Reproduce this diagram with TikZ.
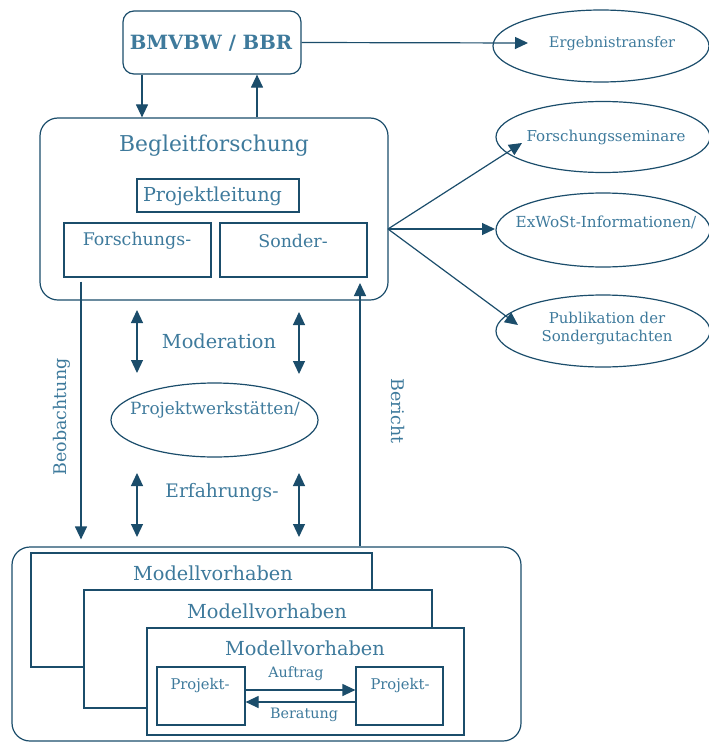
\documentclass[tikz,border=0pt]{standalone}
\usepackage{fontspec}
\setmainfont{DejaVu Serif}
\usetikzlibrary{arrows.meta,shapes.geometric}
\definecolor{linec}{RGB}{27,77,107}
\definecolor{textc}{RGB}{62,122,156}
\newcommand{\fsz}[1]{\fontsize{#1}{#1}\selectfont}
\begin{document}
\begin{tikzpicture}[x=1bp,y=-1bp,
  line width=1.2bp,
  every node/.style={text=textc, inner sep=0pt},
  arr/.style={draw=linec, -{Triangle[length=13bp,width=12bp]}},
  darr/.style={draw=linec, {Triangle[length=13bp,width=12bp]}-{Triangle[length=13bp,width=12bp]}},
  rbox/.style={draw=linec, fill=white, rectangle},
  ell/.style={draw=linec, ellipse},
  big/.style={font=\fsz{19.4}},
  med/.style={font=\fsz{17.5}},
  small/.style={font=\fsz{14.4}}
]
\useasboundingbox (0,0) rectangle (709,742);

% top
\node[rbox, rounded corners=11bp, minimum width=178bp, minimum height=63bp] (bmv) at (212,42.5) {};
\node[font=\bfseries\fsz{19.7}] (bmvt) at (211,43) {BMVBW / BBR};

\node[rbox, rounded corners=18bp, minimum width=348bp, minimum height=182bp] (bf) at (214,209) {};
\node[font=\fsz{21.9}] (bft) at (214,146) {Begleitforschung};
\node[rbox, minimum width=162bp, minimum height=33bp] (pl) at (218,195.5) {};
\node[font=\fsz{19.3}] (plt) at (212.5,196) {Projektleitung};
\node[rbox, minimum width=147bp, minimum height=54bp] (fo) at (137.5,250) {};
\node[med] (fot) at (137,241) {Forschungs-};
\node[rbox, minimum width=147bp, minimum height=54bp] (so) at (293.5,250) {};
\node[med] (sot) at (293,241) {Sonder-};

% right ellipses
\node[ell, minimum width=216bp, minimum height=72bp] (erg) at (601,46) {};
\node[font=\fsz{14.7}] (ergt) at (612,44) {Ergebnistransfer};
\node[ell, minimum width=214bp, minimum height=71bp] (fs) at (603,137) {};
\node[font=\fsz{15.1}] (fst) at (606,137) {Forschungsseminare};
\node[ell, minimum width=214bp, minimum height=74bp] (ex) at (603,230) {};
\node[font=\fsz{15.3}] (ext) at (606,222) {ExWoSt-Informationen/};
\node[ell, minimum width=214bp, minimum height=72bp] (pu) at (603,331) {};
\node[font=\fontsize{15}{19}\selectfont, align=center] (put) at (607,328.5) {Publikation der\\Sondergutachten};

% middle
\node[big] (mod) at (219,341) {Moderation};
\node[ell, minimum width=207bp, minimum height=74bp] (pw) at (214.5,420) {};
\node[font=\fsz{16.9}] (pwt) at (215,410) {Projektwerkstätten/};
\node[font=\fsz{18.7}] (erf) at (222,492) {Erfahrungs-};

% bottom
\node[rbox, rounded corners=18bp, minimum width=509bp, minimum height=194bp] (mvo) at (266.5,644) {};
\node[rbox, minimum width=341bp, minimum height=114bp] (mv1) at (201.5,610) {};
\node[big] (mv1t) at (213,573) {Modellvorhaben};
\node[rbox, minimum width=348bp, minimum height=118bp] (mv2) at (258,649) {};
\node[big] (mv2t) at (267,611) {Modellvorhaben};
\node[rbox, minimum width=317bp, minimum height=107bp] (mv3) at (305.5,681.5) {};
\node[big] (mv3t) at (305,648) {Modellvorhaben};
\node[rbox, minimum width=88bp, minimum height=58bp] (pjl) at (201,696) {};
\node[font=\fsz{14.8}] (pjlt) at (200,686) {Projekt-};
\node[rbox, minimum width=87bp, minimum height=58bp] (pjr) at (399.5,696) {};
\node[font=\fsz{14.8}] (pjrt) at (400,686) {Projekt-};
\node[small] (auf) at (296,674) {Auftrag};
\node[small] (ber) at (304,715) {Beratung};

% side labels
\node[med, rotate=90] (beob) at (62,417) {Beobachtung};
\node[med, rotate=-90] (beri) at (398,411) {Bericht};

% coordinates
\coordinate (fan) at (388,229);
\coordinate (ergtip) at (528,43);
\coordinate (fstip) at (522,143);
\coordinate (extip) at (495,229);
\coordinate (putip) at (518,325);
\coordinate (beritip) at (360,283);

% connectors
\draw[arr] (142,0 |- bmv.south) -- (142,0 |- bf.north);
\draw[arr] (257,0 |- bf.north) -- (257,0 |- bmv.south);
\draw[arr] (bmv.east) -- (ergtip);
\draw[arr] (fan) -- (fstip);
\draw[arr] (fan) -- (extip);
\draw[arr] (fan) -- (putip);
\draw[arr, shorten <=4bp, shorten >=7bp] (81,0 |- fo.south) -- (81,0 |- mvo.north);
\draw[arr] (360,0 |- mvo.north) -- (beritip);

\coordinate (d1a) at (137,310); \coordinate (d1b) at (137,373);
\coordinate (d2a) at (299,312); \coordinate (d2b) at (299,374);
\coordinate (d3a) at (137,473); \coordinate (d3b) at (137,537);
\coordinate (d4a) at (299,473); \coordinate (d4b) at (299,537);
\draw[darr] (d1a) -- (d1b);
\draw[darr] (d2a) -- (d2b);
\draw[darr] (d3a) -- (d3b);
\draw[darr] (d4a) -- (d4b);

\draw[arr] (pjl.east |- 0,690) -- (pjr.west |- 0,690);
\draw[arr] (pjr.west |- 0,702) -- (pjl.east |- 0,702);
\end{tikzpicture}
\end{document}
